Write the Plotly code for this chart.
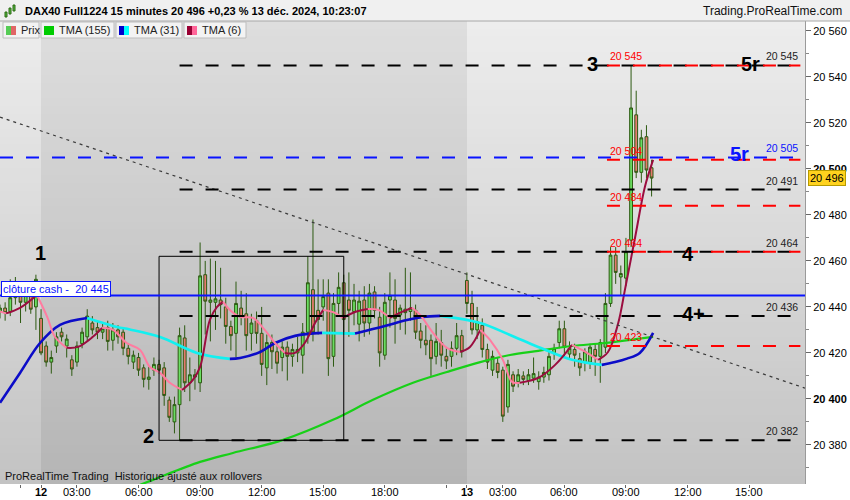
import plotly.graph_objects as go

# bar index: 0 = 12 déc. 01:15, one step = 15 minutes (-8..-1 = end of 11 déc., 83.. = 13 déc.)
bar_index = list(range(-8, 120))

opens = [
    20438, 20439.5, 20438, 20444, 20448, 20442, 20445, 20440,
    20435, 20423, 20416, 20423, 20429, 20423, 20417, 20416, 20424, 20427,
    20433, 20431, 20429, 20431, 20425.5, 20430, 20429, 20422, 20416, 20418,
    20413.5, 20408.5, 20412.5, 20415, 20413.5, 20399.5, 20390, 20397.5, 20426.5, 20407,
    20409.5, 20407, 20454, 20442, 20442, 20443, 20440, 20431.5, 20428.5, 20439.5,
    20437, 20428.5, 20434, 20428.5, 20413.5, 20424.5, 20420.5, 20418, 20422.5, 20418.5,
    20420, 20419, 20429, 20447.5, 20438.5, 20440, 20446, 20418.5, 20441.5, 20450.5,
    20443, 20438, 20432.5, 20443, 20433, 20446.5, 20435.5, 20419, 20443, 20443,
    20436.5, 20439, 20438, 20438.5, 20429.5, 20425.5, 20425.5, 20418.5, 20424.5, 20418.5,
    20418.5, 20422, 20427.5,
    20451.5, 20441.5, 20430, 20432, 20421.5, 20412.5, 20415.5,
    20412.5, 20396.5, 20410.5, 20407.5, 20410, 20408, 20409, 20407.5, 20409.5, 20410.5,
    20420, 20424.5, 20430.5, 20419.5, 20421.5, 20417.5, 20416, 20416, 20421.5, 20418.5,
    20422.5, 20441.5, 20462.5, 20453, 20452.5, 20469, 20523.5, 20498.5, 20514, 20500.5,
]
highs = [
    20441, 20442, 20452, 20453, 20450, 20448, 20448, 20454,
    20439, 20425, 20421, 20429, 20431, 20428, 20419, 20425, 20431, 20439,
    20436, 20434, 20433, 20434, 20433, 20432, 20431, 20424, 20421, 20420,
    20415, 20414, 20418, 20417, 20416, 20401, 20401, 20431, 20432, 20418,
    20413, 20468, 20460, 20461, 20460, 20457, 20444, 20434, 20451, 20447,
    20446, 20437, 20438, 20440, 20428, 20428, 20424, 20425, 20425, 20424,
    20427, 20433, 20462, 20478, 20452, 20452, 20452, 20446, 20455, 20454,
    20455, 20450, 20447, 20449, 20450, 20449, 20440, 20446, 20455, 20452,
    20441, 20457, 20455, 20441, 20433, 20432, 20428, 20433, 20430, 20422,
    20425, 20433, 20430,
    20455, 20447, 20440, 20435, 20424, 20421, 20418,
    20414, 20417, 20412, 20413, 20412, 20413, 20418, 20412, 20414, 20421,
    20424, 20434, 20434, 20425, 20424, 20420, 20422, 20424, 20424, 20426,
    20446, 20466, 20466, 20458, 20470, 20545, 20534, 20517, 20519, 20504,
]
lows = [
    20435, 20434, 20436, 20441, 20433, 20438, 20437, 20430,
    20419, 20414, 20411, 20420, 20425, 20418, 20410, 20414, 20422, 20425,
    20428, 20426, 20426, 20421, 20421, 20424, 20419, 20415, 20413, 20410,
    20405, 20404, 20410, 20411, 20397, 20390, 20385, 20382, 20403, 20399,
    20404, 20403, 20428, 20425, 20430, 20435, 20424, 20421, 20418, 20432,
    20421, 20421, 20424, 20410, 20406, 20413, 20411, 20412, 20408, 20414,
    20416, 20411, 20424, 20425, 20428, 20434, 20410, 20414, 20436, 20428,
    20427, 20432, 20425, 20427, 20428, 20435, 20414, 20417, 20431, 20424,
    20430, 20428, 20434, 20426, 20422, 20419, 20410, 20415, 20414, 20413,
    20414, 20419, 20418,
    20437, 20428, 20426, 20418, 20413, 20410, 20409,
    20390, 20394, 20403, 20405, 20406, 20406, 20407, 20404, 20407, 20408,
    20417, 20422, 20418, 20417, 20414, 20410, 20412, 20413, 20410, 20407,
    20420, 20440, 20450, 20445, 20449, 20466, 20496, 20494, 20496, 20488,
]
closes = [
    20439.5, 20437.5, 20444, 20449, 20442, 20446, 20439, 20452,
    20420, 20416, 20418, 20427, 20427, 20426, 20413, 20423, 20429, 20436,
    20430, 20429, 20430.5, 20425, 20430, 20427, 20422, 20418.5, 20419, 20412.5,
    20408.5, 20409.5, 20415, 20412.5, 20401.5, 20392, 20397.5, 20427.5, 20407, 20410.5,
    20410.5, 20453.5, 20442.5, 20443, 20443.5, 20441, 20431.5, 20427.5, 20441.5, 20435.5,
    20427.5, 20433, 20428.5, 20415, 20424.5, 20420.5, 20415.5, 20422.5, 20418.5, 20421.5,
    20421.5, 20429, 20450.5, 20429, 20434.5, 20444.5, 20417.5, 20441.5, 20448.5, 20434.5,
    20438.5, 20443, 20442.5, 20433, 20446, 20438.5, 20420, 20442, 20445, 20435,
    20439.5, 20437.5, 20439.5, 20429, 20425.5, 20423.5, 20417.5, 20425, 20419, 20416.5,
    20422, 20427.5, 20420.5,
    20441.5, 20430, 20433.5, 20421.5, 20416, 20418.5, 20411.5,
    20392.5, 20415, 20405.5, 20410.5, 20408.5, 20410.5, 20411, 20409.5, 20411.5, 20418.5,
    20422, 20430.5, 20422.5, 20422, 20419, 20413.5, 20420.5, 20422.5, 20418.5, 20424.5,
    20441.5, 20462.5, 20455, 20454.5, 20464, 20526.5, 20498.5, 20513.5, 20499.5, 20496,
]

# moving averages
tma155_idx = [17.3, 21.8, 31.0, 37.4, 47.2, 56.9, 64.7, 72.5, 79.1, 85.6, 91.4, 96.9, 103.5, 109.9, 119.3]
tma155_val = [20360.9, 20364.8, 20372.6, 20376.5, 20382.2, 20390.9, 20399.6, 20407.0, 20411.7,
              20416.0, 20419.1, 20420.9, 20423.0, 20424.3, 20427.0]

tma31_idx = [-8.0, -4.1, -0.2, 3.7, 9.0, 14.8, 17.3, 23.2, 30.4, 36.8, 38.8, 42.7, 45.6, 49.5, 54.8,
             61.2, 67.0, 71.3, 74.4, 77.8, 85.6, 91.4, 96.9, 103.5, 109.3, 111.9, 114.2, 116.7, 119.3]
tma31_val = [20398.3, 20411.3, 20424.3, 20432.2, 20435.2, 20431.3, 20430.2, 20426.9, 20420.0, 20417.4,
             20417.8, 20420.4, 20424.3, 20427.4, 20428.7, 20428.4, 20431.7, 20434.3, 20435.6, 20436.1,
             20433.0, 20427.8, 20422.6, 20417.0, 20414.8, 20416.0, 20417.5, 20420.0, 20428.7]

tma6_idx = [-8.0, -6.8, -4.1, -0.8, 1.2, 2.7, 5.0, 7.2, 10.1, 11.9, 14.0, 16.7, 19.3, 21.2, 23.2, 25.1,
            27.5, 29.6, 31.0, 32.9, 34.3, 35.5, 36.8, 38.8, 41.3, 43.6, 45.6, 47.5, 49.5, 51.4, 53.4,
            55.0, 57.3, 58.8, 61.2, 63.7, 65.7, 68.0, 69.9, 72.3, 73.9, 76.4, 79.1, 81.7, 83.6, 85.6,
            87.5, 90.0, 91.8, 93.3, 96.9, 100.2, 103.5, 105.4, 108.6, 110.5, 112.5, 113.8, 115.8,
            117.7, 119.3]
tma6_val = [20438.0, 20437.2, 20439.6, 20445.2, 20435.7, 20427.0, 20422.2, 20422.6, 20427.0, 20430.9,
            20430.0, 20424.3, 20421.3, 20413.9, 20411.3, 20407.0, 20403.9, 20408.3, 20413.9, 20434.3,
            20440.0, 20442.2, 20438.7, 20435.7, 20435.2, 20430.0, 20424.3, 20420.0, 20420.0, 20424.3,
            20433.0, 20438.7, 20437.4, 20435.2, 20437.8, 20439.1, 20438.7, 20435.2, 20437.4, 20439.6,
            20436.5, 20428.7, 20422.2, 20420.4, 20422.6, 20430.0, 20425.7, 20417.0, 20407.4, 20407.0,
            20409.1, 20414.8, 20423.5, 20421.3, 20417.0, 20420.4, 20433.0, 20447.4, 20470.4, 20492.2,
            20503.9]

# drawn levels
black_levels = [20545, 20491, 20464, 20436, 20382]
red_levels = [20545, 20504, 20484, 20464, 20423]
blue_dash_level = 20505
cash_close = 20445
last_price = 20496
box_idx = [23.0, 59.0]
box_price = [20382, 20462]
trend_idx = [-8.0, 148.9]
trend_price = [20522.5, 20404.7]

x_ticks = [-4, 0, 7, 19, 31, 43, 55, 67, 79, 83, 90, 102, 114, 126, 138]
x_labels = ["", "<b>12</b>", "03:00", "06:00", "09:00", "12:00", "15:00", "18:00", "",
            "<b>13</b>", "03:00", "06:00", "09:00", "12:00", "15:00"]
y_ticks = list(range(20380, 20561, 20))

FONT = "Liberation Sans, Arial, sans-serif"
X_RANGE = [-8.0, 148.9]
Y_RANGE = [20363.0, 20564.3]
DAY12 = [0, 83]


def fmt(v):
    return f"{v:,}".replace(",", " ")


def px(xp):
    return xp / 805


def py(yp):
    return (484 - yp) / 463


fig = go.Figure()

# background: vertical grey gradient, darker band for 12 déc.
rows = 60
y_edges = [Y_RANGE[0] + (Y_RANGE[1] - Y_RANGE[0]) * r / rows for r in range(rows + 1)]
x_edges = [X_RANGE[0], DAY12[0], DAY12[1], X_RANGE[1]]
shade = []
for r in range(rows):
    t = (r + 0.5) / rows
    light = 195 + (237 - 195) * t
    dark = 181 + (222 - 181) * t
    shade.append([light, dark, light])
fig.add_trace(go.Heatmap(
    x=x_edges, y=y_edges, z=shade, zmin=170, zmax=245, showscale=False, hoverinfo="skip",
    colorscale=[[0, "rgb(170,170,170)"], [1, "rgb(245,245,245)"]],
))

fig.add_trace(go.Candlestick(
    x=bar_index, open=opens, high=highs, low=lows, close=closes,
    increasing=dict(line=dict(color="#2d5a12", width=1), fillcolor="#6ade62"),
    decreasing=dict(line=dict(color="#2d5a12", width=1), fillcolor="#e57b6d"),
    whiskerwidth=0, hoverinfo="skip",
))


def two_colour_line(xs, ys, up, down, width):
    start = 0
    for k in range(1, len(xs)):
        rising = ys[k] >= ys[k - 1]
        last = k == len(xs) - 1
        if last or (ys[k + 1] >= ys[k]) != rising:
            fig.add_trace(go.Scatter(
                x=xs[start:k + 1], y=ys[start:k + 1], mode="lines",
                line=dict(color=up if rising else down, width=width, shape="spline"),
                hoverinfo="skip",
            ))
            start = k


fig.add_trace(go.Scatter(x=tma155_idx, y=tma155_val, mode="lines",
                         line=dict(color="#18d018", width=2.2, shape="spline"), hoverinfo="skip"))
two_colour_line(tma31_idx, tma31_val, "#0c0cc8", "#12f0f0", 2.6)
two_colour_line(tma6_idx, tma6_val, "#9b0d3f", "#ff7ca0", 2.0)

shapes = []
annotations = []
dash = "13px,13px"

shapes.append(dict(type="line", xref="x", yref="y", x0=trend_idx[0], x1=trend_idx[1],
                   y0=trend_price[0], y1=trend_price[1],
                   line=dict(color="#3a3a3a", width=1.2, dash="3px,4px")))
shapes.append(dict(type="rect", xref="x", yref="y", x0=box_idx[0], x1=box_idx[1],
                   y0=box_price[0], y1=box_price[1], line=dict(color="black", width=1)))
shapes.append(dict(type="line", xref="x", yref="y", x0=X_RANGE[0], x1=X_RANGE[1],
                   y0=cash_close, y1=cash_close, line=dict(color="#0a14ff", width=2)))
shapes.append(dict(type="line", xref="x", yref="y", x0=X_RANGE[0], x1=148,
                   y0=blue_dash_level, y1=blue_dash_level,
                   line=dict(color="#0a14ff", width=2, dash=dash)))
for lv in black_levels:
    shapes.append(dict(type="line", xref="x", yref="y", x0=27, x1=148, y0=lv, y1=lv,
                       line=dict(color="black", width=2, dash=dash)))
    annotations.append(dict(x=148, y=lv, xref="x", yref="y", text=fmt(lv), showarrow=False,
                            xanchor="right", yanchor="bottom", yshift=1,
                            font=dict(size=10.5, color="#222")))
for lv in red_levels:
    shapes.append(dict(type="line", xref="x", yref="y", x0=110.3, x1=148, y0=lv, y1=lv,
                       line=dict(color="#ff0000", width=2, dash=dash)))
    annotations.append(dict(x=110.5, y=lv, xref="x", yref="y", text=fmt(lv), showarrow=False,
                            xanchor="left", yanchor="bottom", yshift=1,
                            font=dict(size=10.5, color="#ff0000")))
annotations.append(dict(x=148, y=blue_dash_level, xref="x", yref="y", text=fmt(blue_dash_level),
                        showarrow=False, xanchor="right", yanchor="bottom", yshift=1,
                        font=dict(size=10.5, color="#0a14ff")))

# big wave labels
for txt, xi, yv, col in [("1", -0.2, 20463.5, "black"), ("2", 20.9, 20384, "black"),
                         ("3", 107.4, 20545.6, "black"), ("5r", 138.3, 20545.6, "black"),
                         ("5r", 136.2, 20506.5, "#0a14ff"), ("4", 126.1, 20463, "black"),
                         ("4+", 127.1, 20437, "black")]:
    annotations.append(dict(x=xi, y=yv, xref="x", yref="y", text="<b>%s</b>" % txt,
                            showarrow=False, font=dict(size=20, color=col)))

annotations.append(dict(x=0.001, y=cash_close + 2.8, xref="paper", yref="y",
                        text="clôture cash -\u00a0\u00a0" + fmt(cash_close), showarrow=False,
                        xanchor="left", yanchor="middle", bgcolor="white", bordercolor="#0a14ff",
                        borderwidth=1, borderpad=1, font=dict(size=11, color="#0a14ff")))
annotations.append(dict(x=1, y=last_price, xref="paper", yref="y", text=fmt(last_price),
                        showarrow=False, xanchor="left", xshift=3, bgcolor="#ffd21e",
                        bordercolor="#b59a00", borderwidth=1, borderpad=1,
                        font=dict(size=11, color="black")))

# time labels under the chart (placed by hand so they fit the 16px strip)
for xi, lab in zip(x_ticks, x_labels):
    if lab:
        annotations.append(dict(x=xi, y=py(492), xref="x", yref="paper", text=lab,
                                showarrow=False, xanchor="center", yanchor="middle",
                                font=dict(size=11, color="black")))

# title bar
shapes.append(dict(type="rect", xref="paper", yref="paper", x0=0, x1=px(850), y0=1, y1=py(0),
                   fillcolor="#f0f0f0", line=dict(width=0)))
shapes.append(dict(type="line", xref="paper", yref="paper", x0=0, x1=px(850), y0=1, y1=1,
                   line=dict(color="#a8a8a8", width=1)))
for x0, y0, x1, y1 in [(5, 12, 7, 17), (9, 8, 11, 14), (13, 5, 15, 11)]:
    shapes.append(dict(type="rect", xref="paper", yref="paper", x0=px(x0), x1=px(x1),
                       y0=py(y1), y1=py(y0), fillcolor="#55bb44", line=dict(color="#2d6a12", width=1)))
annotations.append(dict(x=px(23), y=py(11), xref="paper", yref="paper", showarrow=False,
                        xanchor="left", yanchor="middle",
                        text="<b>DAX40 Full1224 15 minutes 20 496 +0,23 % 13 déc. 2024, 10:23:07</b>",
                        font=dict(size=11, color="black")))
annotations.append(dict(x=px(844), y=py(11), xref="paper", yref="paper", showarrow=False,
                        xanchor="right", yanchor="middle", text="Trading.ProRealTime.com",
                        font=dict(size=12, color="#111")))

# legend row
legend_items = [("Prix", 3, 39, ["#55cc55", "#e06666"]),
                ("TMA (155)", 41, 114, ["#00cc00"]),
                ("TMA (31)", 116, 182, ["#0000cc", "#00ffff"]),
                ("TMA (6)", 184, 246, ["#990033", "#ff6699"])]
for name, bx0, bx1, cols in legend_items:
    shapes.append(dict(type="rect", xref="paper", yref="paper", x0=px(bx0), x1=px(bx1),
                       y0=py(38), y1=py(22), fillcolor="#f3f3f3", line=dict(color="#bdbdbd", width=1)))
    sw = 10 / len(cols)
    for k, c in enumerate(cols):
        shapes.append(dict(type="rect", xref="paper", yref="paper",
                           x0=px(bx0 + 3 + k * sw), x1=px(bx0 + 3 + (k + 1) * sw),
                           y0=py(35), y1=py(26), fillcolor=c, line=dict(width=0)))
    annotations.append(dict(x=px(bx0 + 16), y=py(30), xref="paper", yref="paper", text=name,
                            showarrow=False, xanchor="left", yanchor="middle",
                            font=dict(size=11, color="#222")))

annotations.append(dict(x=px(3), y=py(476), xref="paper", yref="paper", showarrow=False,
                        xanchor="left", yanchor="middle",
                        text="ProRealTime Trading\u00a0 Historique ajusté aux rollovers",
                        font=dict(size=11, color="#111")))

fig.update_layout(
    width=850, height=500,
    margin=dict(l=0, r=45, t=21, b=16),
    paper_bgcolor="white", plot_bgcolor="#d4d4d4",
    showlegend=False, hovermode=False,
    boxgap=0.22,
    font=dict(family=FONT, size=11, color="black"),
    shapes=shapes, annotations=annotations,
)
fig.update_xaxes(range=X_RANGE, tickvals=x_ticks, showticklabels=False, ticks="outside",
                 ticklen=3, tickcolor="#666", showgrid=False, zeroline=False, automargin=False,
                 rangeslider_visible=False)
fig.update_yaxes(range=Y_RANGE, side="right", tickvals=y_ticks,
                 ticktext=["<b>%s</b>" % fmt(v) if v % 100 == 0 else fmt(v) for v in y_ticks],
                 ticks="outside", ticklen=5, tickcolor="#666", showgrid=False, zeroline=False,
                 showline=True, linecolor="#9a9a9a", automargin=False,
                 minor=dict(dtick=10, tick0=20370, ticks="outside", ticklen=3, tickcolor="#888"),
                 tickfont=dict(size=11, color="black"))

# the page body has a default 8px margin; remove it so the figure sits at the window corner
fig.write_html("out.html", config={"displayModeBar": False},
               post_script="document.body.style.margin='0';")
